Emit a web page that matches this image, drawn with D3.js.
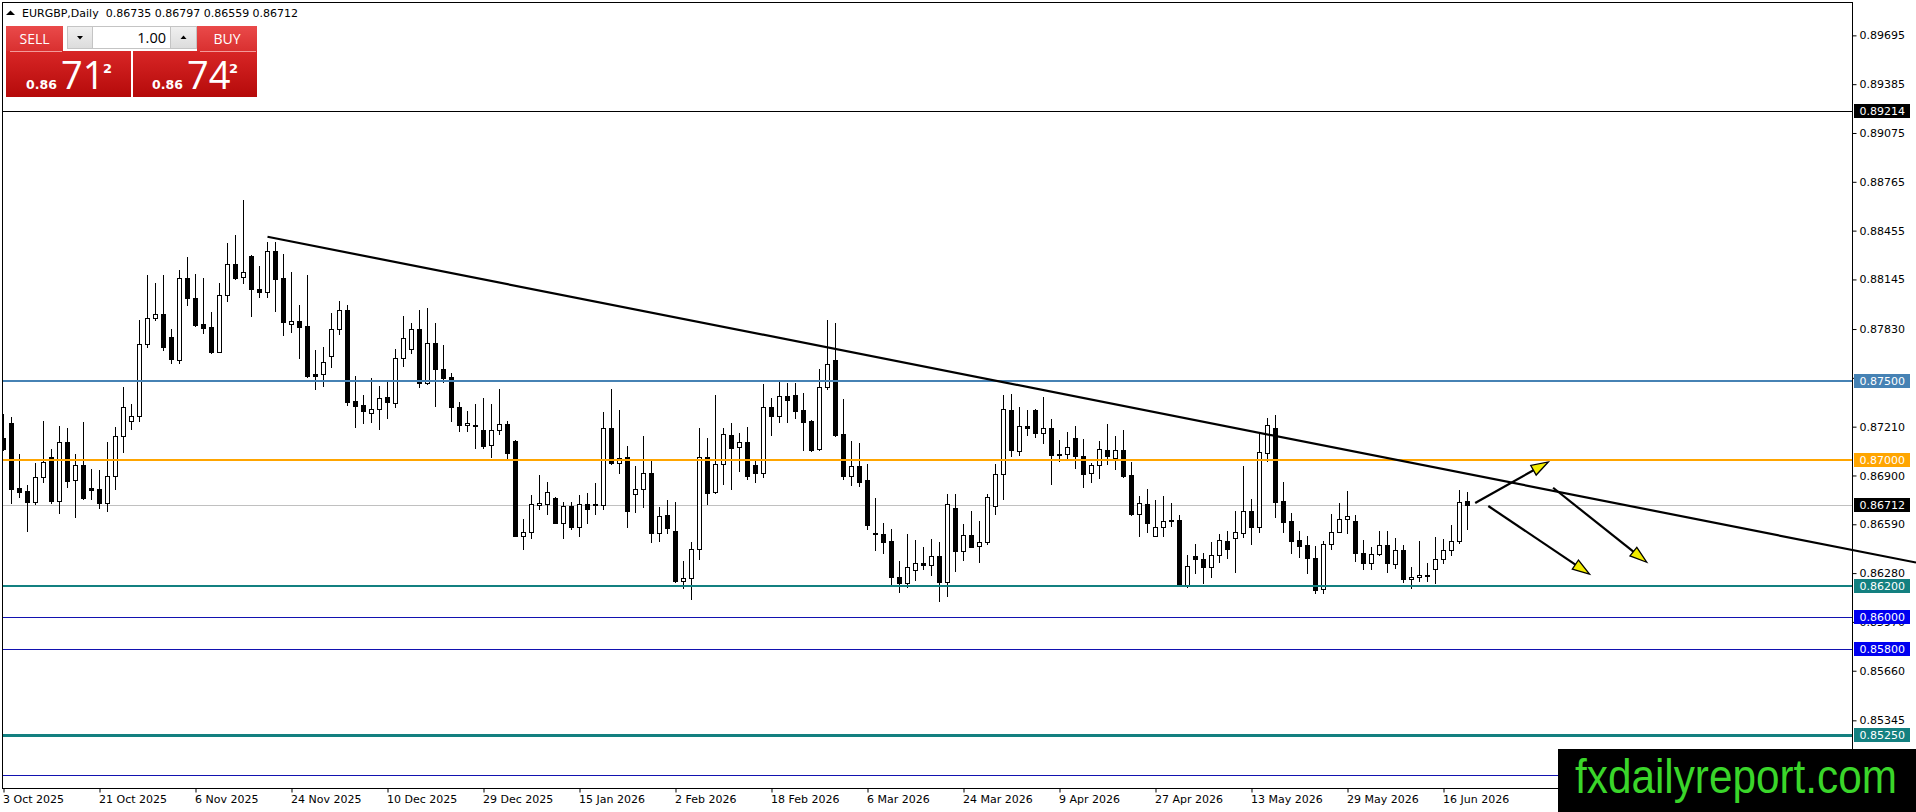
<!DOCTYPE html>
<html><head><meta charset="utf-8">
<script src="https://cdn.jsdelivr.net/npm/d3@7"></script>
<style>
html,body{margin:0;padding:0;background:#fff;overflow:hidden}
svg{display:block}
</style></head><body>
<svg id="c" width="1916" height="812"></svg>
<script>
// ---------------- DATA ----------------
const symbol = "EURGBP,Daily";
const opens = [0.87136,0.87231,0.86818,0.86801,0.86734,0.86888,0.87015,0.86740,0.87110,0.86871,
0.86964,0.86818,0.86812,0.86723,0.86897,0.87149,0.87244,0.87276,0.87733,0.87898,
0.87923,0.87777,0.87633,0.88152,0.88025,0.87860,0.87841,0.87686,0.88044,0.88241,
0.88158,0.88294,0.88084,0.88063,0.88324,0.88152,0.87860,0.87879,0.87849,0.87544,
0.87542,0.87657,0.87828,0.87949,0.87373,0.87345,0.87295,0.87320,0.87396,0.87358,
0.87644,0.87701,0.87828,0.87485,0.87739,0.87574,0.87528,0.87333,0.87218,0.87218,
0.87189,0.87091,0.87189,0.87225,0.87121,0.86518,0.86539,0.86712,0.86717,0.86755,
0.86600,0.86706,0.86575,0.86717,0.86719,0.86710,0.87199,0.86977,0.87019,0.86780,
0.86812,0.86914,0.86533,0.86647,0.86547,0.86232,0.86247,0.86431,0.87019,0.86797,
0.86971,0.87155,0.87079,0.87110,0.86964,0.86918,0.87333,0.87280,0.87403,0.87411,
0.87316,0.87248,0.87066,0.87464,0.87633,0.87161,0.86899,0.86960,0.86871,0.86537,
0.86526,0.86484,0.86253,0.86219,0.86300,0.86344,0.86334,0.86389,0.86226,0.86691,
0.86422,0.86522,0.86454,0.86475,0.86708,0.86909,0.87316,0.87058,0.87214,0.87316,
0.87168,0.87199,0.87034,0.87034,0.87136,0.87026,0.86914,0.86964,0.87062,0.87009,
0.87062,0.86901,0.86653,0.86719,0.86518,0.86571,0.86611,0.86617,0.86204,0.86389,
0.86370,0.86321,0.86395,0.86486,0.86501,0.86533,0.86674,0.86575,0.87041,0.87199,
0.86738,0.86611,0.86490,0.86458,0.86374,0.86179,0.86463,0.86543,0.86621,0.86611,
0.86410,0.86342,0.86401,0.86458,0.86338,0.86427,0.86240,0.86253,0.86262,0.86304,
0.86367,0.86427,0.86484,0.86735];
const highs = [0.87290,0.87269,0.87034,0.86840,0.86977,0.87248,0.87066,0.87214,0.87201,0.87036,
0.87240,0.86939,0.86935,0.87110,0.87206,0.87462,0.87352,0.87887,0.88173,0.88122,
0.88173,0.87828,0.88205,0.88285,0.88180,0.88152,0.87936,0.88120,0.88379,0.88427,
0.88650,0.88298,0.88230,0.88385,0.88385,0.88307,0.88192,0.87983,0.88173,0.87697,
0.87714,0.87930,0.88008,0.87983,0.87532,0.87411,0.87517,0.87468,0.87500,0.87703,
0.87913,0.87871,0.87951,0.87966,0.87866,0.87729,0.87549,0.87367,0.87312,0.87354,
0.87390,0.87354,0.87447,0.87246,0.87125,0.86624,0.86778,0.86903,0.86859,0.86765,
0.86729,0.86729,0.86778,0.86787,0.86850,0.87303,0.87447,0.87316,0.87087,0.86960,
0.87151,0.87003,0.86702,0.86744,0.86729,0.86359,0.86475,0.87201,0.87136,0.87411,
0.87201,0.87231,0.87168,0.87208,0.86998,0.87479,0.87390,0.87496,0.87485,0.87485,
0.87422,0.87250,0.87576,0.87887,0.87866,0.87386,0.87117,0.87104,0.86973,0.86755,
0.86596,0.86558,0.86357,0.86526,0.86490,0.86448,0.86497,0.86480,0.86782,0.86782,
0.86592,0.86674,0.86611,0.86782,0.86973,0.87411,0.87417,0.87333,0.87316,0.87322,
0.87396,0.87257,0.87125,0.87174,0.87214,0.87130,0.86977,0.87121,0.87227,0.87151,
0.87189,0.86988,0.86770,0.86812,0.86744,0.86770,0.86723,0.86649,0.86395,0.86465,
0.86405,0.86480,0.86528,0.86549,0.86676,0.86960,0.86748,0.87168,0.87263,0.87284,
0.86859,0.86664,0.86549,0.86516,0.86452,0.86484,0.86655,0.86727,0.86801,0.86649,
0.86490,0.86444,0.86547,0.86547,0.86501,0.86458,0.86321,0.86484,0.86342,0.86511,
0.86494,0.86585,0.86808,0.86797];
const lows = [0.87062,0.86727,0.86761,0.86549,0.86717,0.86861,0.86723,0.86660,0.86825,0.86634,
0.86748,0.86748,0.86691,0.86676,0.86812,0.87051,0.87193,0.87248,0.87718,0.87887,
0.87697,0.87616,0.87612,0.87983,0.87849,0.87807,0.87680,0.87682,0.88010,0.88146,
0.88125,0.87913,0.88036,0.88031,0.87947,0.87794,0.87813,0.87644,0.87528,0.87451,
0.87468,0.87587,0.87799,0.87348,0.87210,0.87235,0.87240,0.87197,0.87265,0.87333,
0.87597,0.87680,0.87460,0.87481,0.87343,0.87492,0.87248,0.87185,0.87185,0.87077,
0.87077,0.87019,0.87161,0.86998,0.86515,0.86433,0.86505,0.86685,0.86655,0.86596,
0.86505,0.86562,0.86518,0.86596,0.86655,0.86685,0.86973,0.86918,0.86571,0.86670,
0.86698,0.86480,0.86486,0.86537,0.86226,0.86183,0.86113,0.86367,0.86719,0.86787,
0.86846,0.86814,0.86931,0.86880,0.86861,0.86888,0.87157,0.87242,0.87242,0.87267,
0.87062,0.87058,0.87062,0.87447,0.87150,0.86880,0.86840,0.86833,0.86560,0.86427,
0.86410,0.86204,0.86162,0.86190,0.86236,0.86306,0.86268,0.86105,0.86137,0.86295,
0.86363,0.86444,0.86353,0.86463,0.86655,0.86751,0.87024,0.87030,0.87157,0.87146,
0.87108,0.86846,0.86994,0.87009,0.86950,0.86829,0.86859,0.86886,0.86973,0.86941,
0.86892,0.86650,0.86518,0.86543,0.86515,0.86515,0.86579,0.86195,0.86190,0.86279,
0.86215,0.86257,0.86348,0.86374,0.86285,0.86511,0.86465,0.86543,0.86994,0.86638,
0.86543,0.86410,0.86384,0.86283,0.86156,0.86156,0.86431,0.86540,0.86537,0.86359,
0.86304,0.86304,0.86395,0.86289,0.86314,0.86226,0.86183,0.86232,0.86232,0.86215,
0.86342,0.86395,0.86469,0.86559];
const closes = [0.87066,0.86816,0.86797,0.86734,0.86888,0.86983,0.86740,0.87110,0.86867,0.86964,
0.86757,0.86810,0.86723,0.86897,0.87149,0.87333,0.87276,0.87733,0.87898,0.87923,
0.87714,0.87638,0.88152,0.88025,0.87856,0.87839,0.87686,0.88044,0.88241,0.88156,
0.88192,0.88082,0.88063,0.88324,0.88150,0.87873,0.87879,0.87845,0.87534,0.87534,
0.87619,0.87828,0.87949,0.87369,0.87343,0.87312,0.87320,0.87390,0.87365,0.87644,
0.87771,0.87828,0.87485,0.87739,0.87574,0.87517,0.87333,0.87218,0.87231,0.87212,
0.87089,0.87189,0.87225,0.87045,0.86518,0.86539,0.86717,0.86723,0.86793,0.86600,
0.86706,0.86575,0.86717,0.86685,0.86710,0.87199,0.86977,0.87013,0.86676,0.86812,
0.86914,0.86533,0.86645,0.86564,0.86232,0.86247,0.86433,0.87019,0.86787,0.86971,
0.87161,0.87072,0.87110,0.86899,0.86918,0.87333,0.87280,0.87403,0.87379,0.87312,
0.87242,0.87062,0.87464,0.87608,0.87157,0.86899,0.86960,0.86861,0.86585,0.86526,
0.86480,0.86253,0.86219,0.86321,0.86342,0.86334,0.86389,0.86226,0.86719,0.86422,
0.86522,0.86448,0.86475,0.86761,0.86909,0.87322,0.87062,0.87212,0.87204,0.87168,
0.87199,0.87030,0.87030,0.87083,0.87026,0.86909,0.86964,0.87066,0.87024,0.87060,
0.86899,0.86653,0.86723,0.86596,0.86571,0.86613,0.86617,0.86200,0.86325,0.86367,
0.86321,0.86395,0.86490,0.86433,0.86539,0.86674,0.86575,0.87047,0.87218,0.86734,
0.86607,0.86486,0.86454,0.86374,0.86173,0.86463,0.86543,0.86621,0.86643,0.86410,
0.86342,0.86401,0.86458,0.86342,0.86427,0.86240,0.86253,0.86268,0.86268,0.86367,
0.86427,0.86484,0.86734,0.86712];

const dateLabels = ["3 Oct 2025","21 Oct 2025","6 Nov 2025","24 Nov 2025","10 Dec 2025","29 Dec 2025",
"15 Jan 2026","2 Feb 2026","18 Feb 2026","6 Mar 2026","24 Mar 2026","9 Apr 2026","27 Apr 2026",
"13 May 2026","29 May 2026","16 Jun 2026"];
const dateTickBars = [0,12,24,36,48,60,72,84,96,108,120,132,144,156,168,180];

const priceTicks = [0.89695,0.89385,0.89075,0.88765,0.88455,0.88145,0.87830,0.87520,0.87210,
0.86900,0.86590,0.86280,0.85970,0.85660,0.85345];

const levelPrices = [0.89214,0.87500,0.87000,0.86200,0.86000,0.85800,0.85250,0.85000];
const levelLabelled = [true,true,true,true,true,true,true,false];
const bidPrice = 0.86712;

const trendBars = [33, 231.1];
const trendPrices = [0.88416, 0.86427];

const arrowFromBars = [183.96, 185.6, 193.7];
const arrowFromPrices = [0.86725, 0.86706, 0.86822];
const arrowToBars = [193.1, 198.25, 205.4];
const arrowToPrices = [0.86986, 0.86274, 0.86349];

const sellPrice = ["0.86", "71", "2"];
const buyPrice = ["0.86", "74", "2"];
const lotSize = "1.00";
const watermark = "fxdailyreport.com";

// ---------------- STYLES ----------------
const levelColors = ["#000000","#4682B4","#FFA500","#138080","#1212b0","#1212b0","#138080","#1212b0"];
const levelBoxColors = ["#000000","#4682B4","#FFA500","#138080","#0000f0","#0000f0","#138080","#0000f0"];
const levelWidths = [1,2,2,2,1,1,3,1];
const FONT = "'DejaVu Sans', Verdana, sans-serif";

// ---------------- CHART ----------------
const svg = d3.select("#c");
const W = 1916, H = 812;
const plotL = 2.5, plotT = 2.5, plotR = 1852.5, plotB = 788.5;

const x = d3.scaleLinear().domain([0, 1]).range([3.5, 11.5]);
const y = d3.scaleLinear().domain([0.875, 0.862]).range([381, 585.7]);

svg.append("rect").attr("width", W).attr("height", H).attr("fill", "#fff");

const defs = svg.append("defs");
defs.append("clipPath").attr("id","plotclip").append("rect")
  .attr("x", plotL).attr("y", plotT).attr("width", plotR - plotL).attr("height", plotB - plotT);
function grad(id, c1, c2){
  const g = defs.append("linearGradient").attr("id", id).attr("x1",0).attr("y1",0).attr("x2",0).attr("y2",1);
  g.append("stop").attr("offset","0%").attr("stop-color",c1);
  g.append("stop").attr("offset","100%").attr("stop-color",c2);
}
grad("btnRed", "#ea4a4a", "#d93030");
grad("boxRed", "#d82626", "#b50a0a");
grad("btnGray", "#f0f0f0", "#dcdcdc");

const plot = svg.append("g").attr("clip-path", "url(#plotclip)");

// bid line
plot.append("line")
  .attr("x1", plotL).attr("x2", plotR)
  .attr("y1", Math.round(y(bidPrice)) + 0.5).attr("y2", Math.round(y(bidPrice)) + 0.5)
  .attr("stroke", "#c0c0c0").attr("stroke-width", 1);

// candles
const bars = d3.range(opens.length).map(i => ({i, o: opens[i], h: highs[i], l: lows[i], c: closes[i]}));
const cg = plot.append("g").attr("shape-rendering", "crispEdges");
bars.forEach(b => {
  const cx = x(b.i);
  const yh = Math.round(y(b.h)), yl = Math.round(y(b.l));
  cg.append("rect").attr("x", cx - 0.5).attr("y", yh).attr("width", 1).attr("height", Math.max(1, yl - yh + 1)).attr("fill", "#000");
  const yo = Math.round(y(b.o)), yc = Math.round(y(b.c));
  if (b.c > b.o) {
    cg.append("rect").attr("x", cx - 2).attr("y", yc + 0.5).attr("width", 4).attr("height", Math.max(0, yo - yc))
      .attr("fill", "#fff").attr("stroke", "#000").attr("stroke-width", 1);
  } else {
    const t = Math.min(yo, yc), bt = Math.max(yo, yc);
    cg.append("rect").attr("x", cx - 2.5).attr("y", t).attr("width", 5).attr("height", Math.max(1, bt - t + 1)).attr("fill", "#000");
  }
});

// horizontal levels
levelPrices.forEach((p, k) => {
  const w = levelWidths[k];
  const yy = Math.round(y(p)) + (w % 2 ? 0.5 : 0);
  plot.append("line").attr("x1", plotL).attr("x2", plotR).attr("y1", yy).attr("y2", yy)
    .attr("stroke", levelColors[k]).attr("stroke-width", w);
});

// trend line (extends to right edge)
const xEnd = x.invert(W);
const tSlope = (trendPrices[1] - trendPrices[0]) / (trendBars[1] - trendBars[0]);
const tEndP = trendPrices[0] + tSlope * (xEnd - trendBars[0]);
svg.append("line")
  .attr("x1", x(trendBars[0])).attr("y1", y(trendPrices[0]))
  .attr("x2", x(xEnd)).attr("y2", y(tEndP))
  .attr("stroke", "#000").attr("stroke-width", 2.2);

// arrows
arrowFromBars.forEach((b0, k) => {
  const x0 = x(b0), y0 = y(arrowFromPrices[k]);
  const x1 = x(arrowToBars[k]), y1 = y(arrowToPrices[k]);
  const dx = x1 - x0, dy = y1 - y0, len = Math.hypot(dx, dy);
  const ux = dx / len, uy = dy / len, px = -uy, py = ux;
  const L = 17, Wd = 5.5;
  const bx = x1 - ux * L, by = y1 - uy * L;
  svg.append("line").attr("x1", x0).attr("y1", y0).attr("x2", bx).attr("y2", by)
    .attr("stroke", "#000").attr("stroke-width", 2.2);
  svg.append("polygon")
    .attr("points", [[x1, y1], [bx + px * Wd, by + py * Wd], [bx - px * Wd, by - py * Wd]].map(p => p.join(",")).join(" "))
    .attr("fill", "#f2ec00").attr("stroke", "#000").attr("stroke-width", 1.3).attr("stroke-linejoin", "miter");
});

// frame
svg.append("rect").attr("x", plotL).attr("y", plotT).attr("width", plotR - plotL).attr("height", plotB - plotT)
  .attr("fill", "none").attr("stroke", "#000").attr("stroke-width", 1);

// right price axis
const yAxis = d3.axisRight(y).tickValues(priceTicks).tickFormat(d3.format(".5f")).tickSize(4).tickPadding(3);
const ya = svg.append("g").attr("transform", `translate(${plotR},0)`).call(yAxis);
ya.select(".domain").remove();
ya.selectAll("text").attr("font-family", FONT).attr("font-size", 11).attr("fill", "#000");
ya.selectAll("line").attr("stroke", "#000");

// price label boxes
const boxes = svg.append("g");
function priceBox(p, col){
  const yy = y(p);
  boxes.append("rect").attr("x", 1854).attr("y", Math.round(yy) - 7).attr("width", 56).attr("height", 14).attr("fill", col);
  boxes.append("text").attr("x", 1859.5).attr("y", yy).attr("dy", "0.36em")
    .attr("font-family", FONT).attr("font-size", 11).attr("fill", "#fff").text(d3.format(".5f")(p));
}
levelPrices.forEach((p, k) => { if (levelLabelled[k]) priceBox(p, levelBoxColors[k]); });
priceBox(bidPrice, "#000");

// bottom time axis
const xAxis = d3.axisBottom(x).tickValues(dateTickBars).tickFormat((d, i) => dateLabels[i]).tickSize(4).tickPadding(3);
const xa = svg.append("g").attr("transform", `translate(0,${plotB})`).call(xAxis);
xa.select(".domain").remove();
xa.selectAll("text").attr("font-family", FONT).attr("font-size", 11).attr("fill", "#000").attr("text-anchor", "start").attr("x", -1);
xa.selectAll("line").attr("stroke", "#000");

// header
svg.append("polygon").attr("points", "6,15 10.5,10.5 15,15").attr("fill", "#000");
svg.append("text").attr("x", 22).attr("y", 17).attr("font-family", FONT).attr("font-size", 11).attr("fill", "#000")
  .attr("xml:space", "preserve")
  .text(symbol + "  " + [opens[opens.length-1], highs[highs.length-1], lows[lows.length-1], closes[closes.length-1]].map(d3.format(".5f")).join(" "));

// one-click trading panel
const UI = "'Open Sans','Noto Sans',sans-serif";
const pnl = svg.append("g");
pnl.append("rect").attr("x", 6).attr("y", 26).attr("width", 57).attr("height", 25).attr("fill", "url(#btnRed)");
pnl.append("rect").attr("x", 197).attr("y", 26).attr("width", 60).attr("height", 25).attr("fill", "url(#btnRed)");
pnl.append("rect").attr("x", 6).attr("y", 51).attr("width", 125).attr("height", 46).attr("fill", "url(#boxRed)");
pnl.append("rect").attr("x", 133).attr("y", 51).attr("width", 124).attr("height", 46).attr("fill", "url(#boxRed)");
pnl.append("line").attr("x1", 10).attr("x2", 62).attr("y1", 51.5).attr("y2", 51.5).attr("stroke", "#f39a9a");
pnl.append("line").attr("x1", 200).attr("x2", 256).attr("y1", 51.5).attr("y2", 51.5).attr("stroke", "#f39a9a");
pnl.append("text").attr("x", 34.5).attr("y", 44).attr("text-anchor", "middle").attr("font-family", UI).attr("font-size", 14).attr("fill", "#fff").text("SELL");
pnl.append("text").attr("x", 227).attr("y", 44).attr("text-anchor", "middle").attr("font-family", UI).attr("font-size", 14).attr("fill", "#fff").text("BUY");
// lot controls
pnl.append("rect").attr("x", 67.5).attr("y", 26.5).attr("width", 25).attr("height", 22).attr("fill", "url(#btnGray)").attr("stroke", "#c4c4c4");
pnl.append("rect").attr("x", 92.5).attr("y", 26.5).attr("width", 78).attr("height", 22).attr("fill", "#fff").attr("stroke", "#c4c4c4");
pnl.append("rect").attr("x", 170.5).attr("y", 26.5).attr("width", 26).attr("height", 22).attr("fill", "url(#btnGray)").attr("stroke", "#c4c4c4");
pnl.append("polygon").attr("points", "77,36 83,36 80,39.5").attr("fill", "#000");
pnl.append("polygon").attr("points", "180.5,39 186.5,39 183.5,35.5").attr("fill", "#000");
pnl.append("text").attr("x", 166).attr("y", 43).attr("text-anchor", "end").attr("font-family", UI).attr("font-size", 14.5).attr("fill", "#000").text(lotSize);
// prices
function bigPrice(x0, parts){
  pnl.append("text").attr("x", x0).attr("y", 89).attr("font-family", FONT).attr("font-weight", "bold").attr("font-size", 12.5).attr("fill", "#fff").text(parts[0]);
  pnl.append("text").attr("x", x0 + 35).attr("y", 89).attr("font-family", UI).attr("font-size", 38).attr("fill", "#fff").text(parts[1]);
  pnl.append("text").attr("x", x0 + 77).attr("y", 73).attr("font-family", FONT).attr("font-weight", "bold").attr("font-size", 13).attr("fill", "#fff").text(parts[2]);
}
bigPrice(26, sellPrice);
bigPrice(152, buyPrice);

// watermark
svg.append("rect").attr("x", 1558).attr("y", 749).attr("width", W - 1558).attr("height", H - 749).attr("fill", "#000");
svg.append("text").attr("x", 1575).attr("y", 793).attr("font-family", "'Liberation Sans', Arial, sans-serif").attr("font-size", 48)
  .attr("fill", "#3ad62a").attr("textLength", 322).attr("lengthAdjust", "spacingAndGlyphs").text(watermark);
</script>
</body></html>
